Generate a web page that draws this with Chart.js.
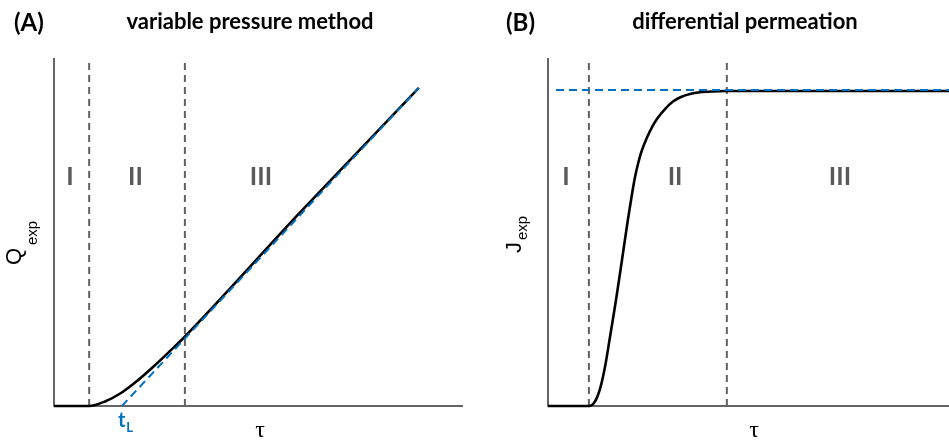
<!DOCTYPE html>
<html>
<head>
<meta charset="utf-8">
<script src="https://cdn.jsdelivr.net/npm/chart.js@4.4.1/dist/chart.umd.min.js"></script>
<style>
  body { margin: 0; background: #fff; }
  #wrap { position: relative; width: 949px; height: 441px; }
  canvas { position: absolute; top: 0; }
</style>
</head>
<body>
<div id="wrap">
  <canvas id="panelA" width="475" height="441" style="left:0"></canvas>
  <canvas id="panelB" width="474" height="441" style="left:475px"></canvas>
</div>
<script>
// axes run 0..10 on both panels (arbitrary units)
const regionLabels = ['I', 'II', 'III'];

// (A) variable pressure method
const curveAX = [0, 0.6, 0.856, 1.247, 1.638, 2.029, 2.421, 2.812, 3.203, 6.0, 8.92];
const curveAY = [0, 0, 0, 0.129, 0.374, 0.718, 1.121, 1.552, 1.997, 5.54, 9.14];
const tangentAX = [1.66, 8.92];
const tangentAY = [0, 9.14];
const dividersA = [0.86, 3.2];
const regionXA = [0.39, 1.99, 5.06];

// (B) differential permeation
const curveBX = [0, 0.8, 1.022, 1.172, 1.297, 1.421, 1.546, 1.696, 1.845, 1.995, 2.095, 2.17, 2.244, 2.319,
                 2.469, 2.594, 2.743, 2.918, 3.117, 3.317, 3.541, 3.791, 4.14, 4.464, 10];
const curveBY = [0, 0, 0, 0.129, 0.489, 1.121, 1.983, 3.046, 4.195, 5.374, 6.092, 6.58, 6.954, 7.27,
                 7.716, 8.017, 8.29, 8.534, 8.75, 8.879, 8.966, 9.014, 9.04, 9.052, 9.052];
const steadyBX = [0.2, 10];
const steadyBY = [9.08, 9.08];
const dividersB = [1.02, 4.46];
const regionXB = [0.45, 3.17, 7.28];

const regionLabelY = 6.35;

function pts(xs, ys) {
    return xs.map((x, i) => ({ x: x, y: ys[i] }));
}

function makePanel(id, p) {
    const datasets = [
        { data: pts(p.refX, p.refY), borderColor: '#0070c0', borderWidth: 2, borderDash: [8, 5], order: 0 },
        { data: pts(p.curveX, p.curveY), borderColor: '#000000', borderWidth: 2.6, cubicInterpolationMode: 'monotone', order: 1 }
    ];
    p.dividers.forEach(d => {
        datasets.push({ data: [{ x: d, y: 0 }, { x: d, y: 10 }], borderColor: '#616161', borderWidth: 2, borderDash: [7, 5], order: 2 });
    });
    datasets.forEach(ds => { ds.pointRadius = 0; ds.fill = false; ds.clip = false; });

    const decor = {
        id: 'decor',
        beforeDatasetsDraw(chart) {
            const c = chart.ctx, a = chart.chartArea;
            c.save();
            c.strokeStyle = '#333333';
            c.lineWidth = 1.5;
            c.beginPath();
            c.moveTo(a.left, a.top);
            c.lineTo(a.left, a.bottom);
            c.lineTo(a.right, a.bottom);
            c.stroke();
            c.restore();
        },
        afterDraw(chart) {
            const c = chart.ctx, xs = chart.scales.x, ys = chart.scales.y;
            c.save();
            // panel tag + title
            c.fillStyle = '#000';
            c.textBaseline = 'alphabetic';
            c.textAlign = 'left';
            c.font = 'bold 24px Lato';
            c.fillText(p.tag, p.tagX, 31);
            c.textAlign = 'center';
            c.font = 'bold 22px Lato';
            c.fillText(p.title, p.titleX, 29);

            // region numerals
            c.fillStyle = '#595959';
            c.font = 'bold 25px Lato';
            regionLabels.forEach((t, i) => {
                c.fillText(t, xs.getPixelForValue(p.regionX[i]), ys.getPixelForValue(regionLabelY));
            });

            // x axis symbol
            c.fillStyle = '#000';
            c.font = '24px "Liberation Serif"';
            c.fillText('τ', p.tauX, 437);

            // rotated y label with subscript
            c.textAlign = 'left';
            c.save();
            c.translate(p.yLab.x, p.yLab.y);
            c.rotate(-Math.PI / 2);
            c.font = '22px "Liberation Sans"';
            c.fillText(p.yLab.text, 0, 0);
            c.font = '15px "Liberation Sans"';
            c.fillText('exp', p.yLab.subU, p.yLab.subV);
            c.restore();

            if (p.lag) {
                const x0 = xs.getPixelForValue(p.refX[0]);
                c.fillStyle = '#0070c0';
                c.font = 'bold 20px Lato';
                c.fillText('t', x0 - 4, 427);
                const w = c.measureText('t').width;
                c.font = 'bold 13px Lato';
                c.fillText('L', x0 - 3 + w, 432);
            }
            c.restore();
        }
    };

    return new Chart(document.getElementById(id).getContext('2d'), {
        type: 'line',
        data: { datasets: datasets },
        options: {
            responsive: false,
            animation: false,
            layout: { padding: p.pad },
            scales: {
                x: { type: 'linear', min: 0, max: 10, display: false },
                y: { type: 'linear', min: 0, max: 10, display: false }
            },
            plugins: { legend: { display: false }, tooltip: { enabled: false } }
        },
        plugins: [decor]
    });
}

makePanel('panelA', {
    tag: '(A)', tagX: 14, title: 'variable pressure method', titleX: 250,
    curveX: curveAX, curveY: curveAY, refX: tangentAX, refY: tangentAY,
    dividers: dividersA, regionX: regionXA, tauX: 260, lag: true,
    yLab: { text: 'Q', x: 21, y: 265, subU: 20, subV: 16 },
    pad: { left: 54, right: 12, top: 58, bottom: 35 }
});

makePanel('panelB', {
    tag: '(B)', tagX: 31, title: 'differential permeation', titleX: 270,
    curveX: curveBX, curveY: curveBY, refX: steadyBX, refY: steadyBY,
    dividers: dividersB, regionX: regionXB, tauX: 279, lag: false,
    yLab: { text: 'J', x: 46, y: 253, subU: 13, subV: 6 },
    pad: { left: 73, right: 0, top: 58, bottom: 35 }
});
</script>
</body>
</html>
